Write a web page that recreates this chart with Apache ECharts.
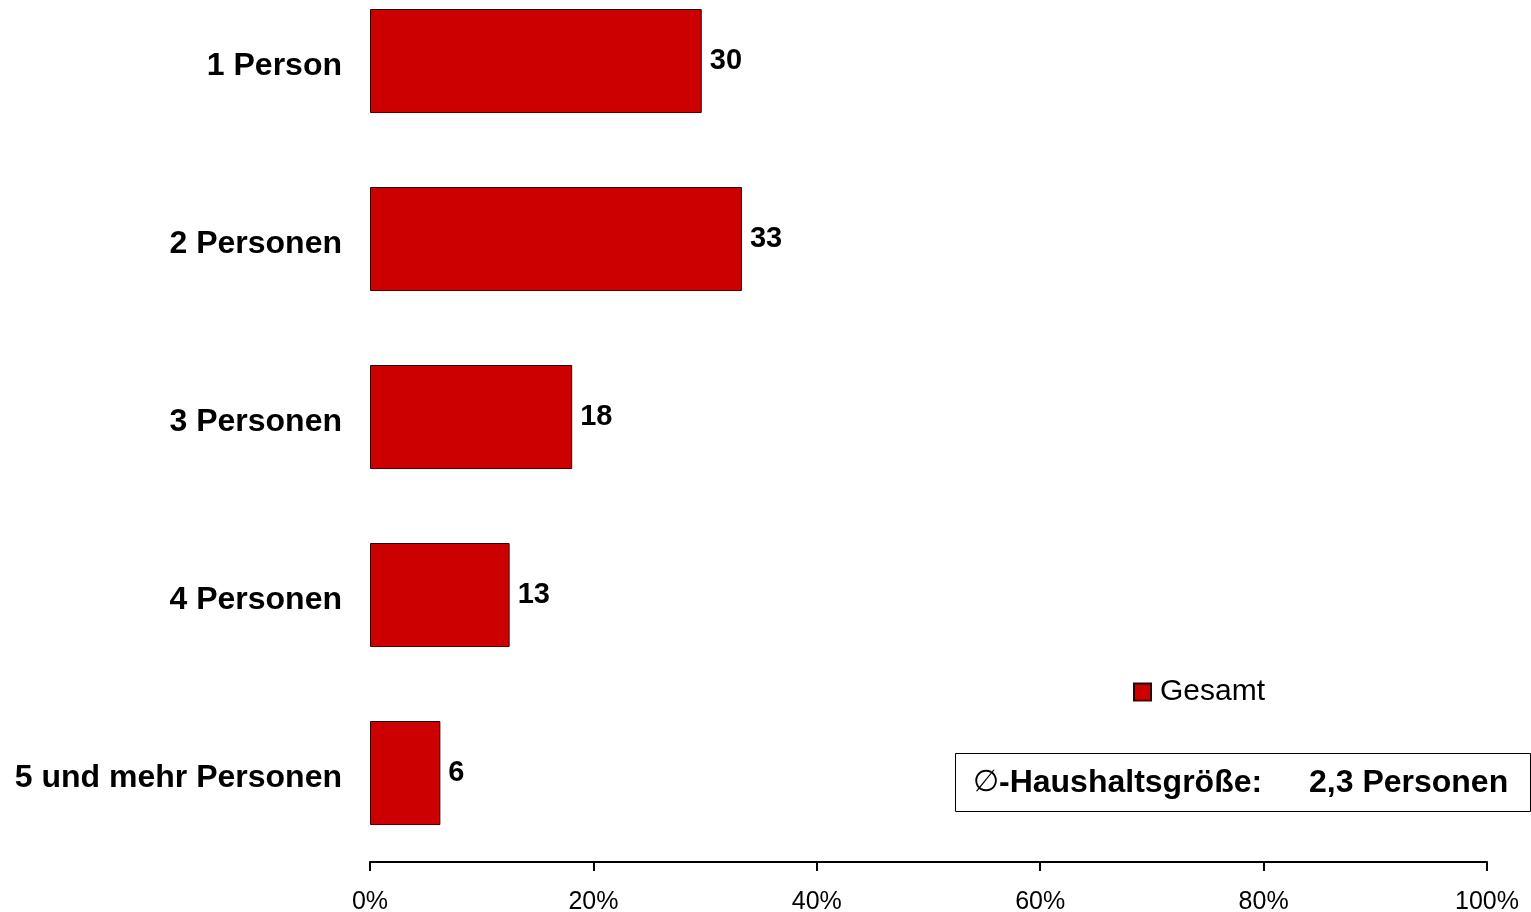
<!DOCTYPE html>
<html><head><meta charset="utf-8">
<script src="https://cdn.jsdelivr.net/npm/echarts@6/dist/echarts.min.js"></script>
<style>html,body{margin:0;padding:0;background:#fff}#c{width:1531px;height:912px}</style>
</head><body><div id="c"></div>
<script>
const categories = ['1 Person', '2 Personen', '3 Personen', '4 Personen', '5 und mehr Personen'];
const values = [29.7, 33.3, 18.1, 12.5, 6.3];
const valueLabels = ['30', '33', '18', '13', '6'];
const seriesName = 'Gesamt';
const xTicks = [0, 20, 40, 60, 80, 100];
const boxSymbol = '∅';
const boxLabel = '-Haushaltsgröße:';
const boxValue = '2,3 Personen';

const chart = echarts.init(document.getElementById('c'));
const F = '"Liberation Sans", Arial, sans-serif';
chart.setOption({
  animation: false,
  backgroundColor: '#fff',
  textStyle: { fontFamily: F },
  grid: { left: 370, right: 44, top: -28, bottom: 50, outerBoundsMode: 'none', containLabel: false },
  legend: {
    data: [seriesName], left: 1128, top: 672, icon: 'rect', itemWidth: 17, itemHeight: 17, itemGap: 10,
    textStyle: { fontFamily: F, fontSize: 30, color: '#000', padding: [0, 0, 0, 4] }
  },
  xAxis: {
    type: 'value', min: 0, max: 100, interval: 20,
    axisLine: { show: true, lineStyle: { color: '#000', width: 2 } },
    axisTick: { show: true, length: 9, lineStyle: { color: '#000', width: 2 } },
    splitLine: { show: false },
    axisLabel: { formatter: v => xTicks.includes(v) ? v + '%' : '', fontFamily: F, fontSize: 25, color: '#000', margin: 28 }
  },
  yAxis: {
    type: 'category', data: categories, inverse: true,
    axisLine: { show: false }, axisTick: { show: false },
    axisLabel: { fontFamily: F, fontSize: 32, fontWeight: 'bold', color: '#000', margin: 28, verticalAlign: 'top', lineHeight: 10 }
  },
  series: [{
    name: seriesName, type: 'bar', data: values, barWidth: 104,
    itemStyle: { color: '#CC0000', borderColor: '#3a0000', borderWidth: 1 },
    label: {
      show: true, position: 'right', distance: 8,
      formatter: p => valueLabels[p.dataIndex],
      fontFamily: F, fontSize: 29, fontWeight: 'bold', color: '#000'
    }
  }],
  graphic: [
    { type: 'rect', shape: { x: 955.5, y: 753.5, width: 575, height: 58 }, style: { fill: '#fff', stroke: '#000', lineWidth: 1 } },
    { type: 'text', x: 973, y: 783, style: {
        text: '{s|' + boxSymbol + '}{b|' + boxLabel + '}',
        rich: { s: { fontFamily: F, fontSize: 30, fontWeight: 'normal', fill: '#000' }, b: { fontFamily: F, fontSize: 32, fontWeight: 'bold', fill: '#000' } },
        fill: '#000', textVerticalAlign: 'middle' } },
    { type: 'text', x: 1309, y: 783, style: { text: boxValue, font: 'bold 32px ' + F, fill: '#000', textVerticalAlign: 'middle' } }
  ]
});
</script></body></html>
